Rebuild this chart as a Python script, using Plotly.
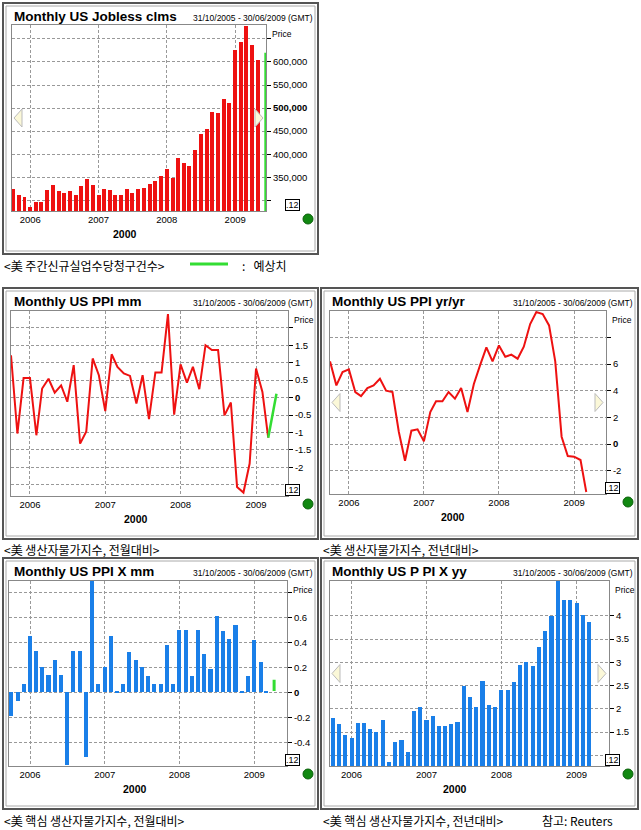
import plotly.graph_objects as go
import pandas as pd

W, H = 641, 830
months42 = pd.date_range("2005-10-01", periods=42, freq="MS")
months44 = pd.date_range("2005-10-01", periods=44, freq="MS")
year_ticks = ["2006-01-01", "2007-01-01", "2008-01-01", "2009-01-01"]
year_labels = ["2006", "2007", "2008", "2009"]

jobless = [325.4, 310.9, 307.2, 285.5, 296.4, 296.4, 323.2, 334.0, 320.3, 316.7, 319.6, 312.3,
           331.2, 345.7, 332.6, 310.9, 325.4, 321.7, 312.3, 312.3, 325.4, 316.7, 323.9, 327.5,
           334.8, 342.8, 352.2, 368.8, 347.8, 392.8, 381.2, 374.0, 408.7, 444.9, 453.6, 490.6,
           489.9, 519.6, 510.1, 626.1, 644.2, 676.8, 637.0, 604.3]
jobless = [v * 1000 for v in jobless]
ppi_mm = [1.21, -1.03, 0.56, 0.56, -1.08, 0.26, 0.54, 0.14, 0.35, -0.12, 0.93, -1.32,
          -0.97, 1.12, 0.64, -0.39, 1.24, 0.88, 0.69, 0.62, -0.17, 0.64, -0.62, 0.72,
          0.72, 2.39, -0.49, 0.95, 0.43, 0.88, 0.24, 1.50, 1.36, 1.36, -0.51, -0.14,
          -2.56, -2.72, -1.89, 0.83, 0.16, -1.15]
ppi_mm_fc = [-1.15, 0.11]
ppi_yy = [6.2, 4.4, 5.4, 5.6, 3.9, 3.6, 4.2, 4.4, 4.9, 4.0, 3.9, 0.9,
          -1.25, 1.0, 1.1, 0.2, 2.4, 3.2, 3.2, 3.9, 3.4, 4.2, 2.4, 4.5,
          5.9, 7.25, 6.2, 7.4, 6.55, 6.7, 6.4, 7.3, 9.0, 9.9, 9.75, 8.9,
          6.2, 0.55, -0.9, -0.95, -1.2, -3.6]
ppix_mm = [-0.19, -0.07, 0.07, 0.45, 0.33, 0.20, 0.14, 0.26, 0.14, -0.58, 0.33, 0.33,
           -0.52, 0.89, 0.07, 0.20, 0.45, 0.01, 0.07, 0.32, 0.26, 0.20, 0.13, 0.07,
           0.07, 0.38, 0.07, 0.50, 0.50, 0.13, 0.50, 0.31, 0.19, 0.61, 0.49, 0.43,
           0.54, 0.01, 0.13, 0.42, 0.24, 0.01]
ppix_mm_fc = [0.01, 0.10]
ppix_yy = [1.81, 1.68, 1.44, 1.38, 1.70, 1.70, 1.57, 1.50, 1.77, 0.85, 1.28, 1.33,
           1.07, 1.95, 2.05, 1.75, 1.85, 1.62, 1.62, 1.68, 1.72, 2.50, 2.25, 2.04,
           2.60, 2.08, 2.04, 2.40, 2.40, 2.57, 2.95, 3.00, 2.93, 3.32, 3.68, 4.00,
           4.75, 4.35, 4.35, 4.27, 4.02, 3.87]

def fx(px): return px / W
def fy(py): return 1 - py / H

fig = go.Figure()
shapes, annots = [], []
FONT = "Liberation Sans, Arial"
KFONT = "Noto Sans CJK KR"
GRID = "#999"

panels = [
    dict(n=1, box=(3, 3, 318, 254), plot=(12, 25, 266, 211), title="Monthly US Jobless clms",
         xr=["2005-09-25", "2009-06-15"], yr=[277000, 680000],
         tv=[300000, 350000, 400000, 450000, 500000, 550000, 600000, 650000],
         tt=["", "350,000", "400,000", "450,000", "<b>500,000</b>", "550,000", "600,000", ""],
         arrows=True),
    dict(n=2, box=(3, 288, 318, 539), plot=(11, 311, 288, 496), title="Monthly US PPI mm",
         xr=["2005-10-01", "2009-06-05"], yr=[-2.82, 2.48],
         tv=[-2.5, -2, -1.5, -1, -0.5, 0, 0.5, 1, 1.5, 2],
         tt=["", "-2", "-1.5", "-1", "-0.5", "<b>0</b>", "0.5", "1", "1.5", ""], arrows=False),
    dict(n=3, box=(321, 288, 638, 539), plot=(330, 311, 606, 494), title="Monthly US PPI yr/yr",
         xr=["2005-10-01", "2009-06-05"], yr=[-3.75, 9.98],
         tv=[-2, 0, 2, 4, 6, 8], tt=["-2", "<b>0</b>", "2", "4", "6", ""], arrows=True),
    dict(n=4, box=(3, 558, 318, 809), plot=(9, 581, 287, 766), title="Monthly US PPI X mm",
         xr=["2005-09-20", "2009-06-10"], yr=[-0.59, 0.89],
         tv=[-0.4, -0.2, 0, 0.2, 0.4, 0.6, 0.8], tt=["-0.4", "-0.2", "<b>0</b>", "0.2", "0.4", "0.6", ""],
         arrows=False),
    dict(n=5, box=(321, 558, 638, 809), plot=(330, 581, 609, 766), title="Monthly US P PI X yy",
         xr=["2005-09-18", "2009-06-08"], yr=[0.77, 4.75],
         tv=[1, 1.5, 2, 2.5, 3, 3.5, 4], tt=["", "1.5", "2", "2.5", "3", "3.5", "4"], arrows=True),
]

layout_axes = {}
for p in panels:
    n = p["n"]
    bx0, by0, bx1, by1 = p["box"]
    px0, py0, px1, py1 = p["plot"]
    sx = "" if n == 1 else str(n)
    layout_axes["xaxis" + sx] = dict(
        domain=[fx(px0), fx(px1)], anchor="y" + sx, type="date", range=p["xr"],
        tickvals=year_ticks, ticktext=year_labels, showgrid=True, gridcolor=GRID,
        griddash="3px,2px", gridwidth=1, showline=True, linecolor="#888", mirror=True,
        ticks="", tickfont=dict(family=FONT, size=9.5, color="#000"), zeroline=False)
    layout_axes["yaxis" + sx] = dict(
        domain=[fy(py1), fy(py0)], anchor="x" + sx, side="right", range=p["yr"],
        tickvals=p["tv"], ticktext=p["tt"], showgrid=True, gridcolor=GRID, griddash="3px,2px",
        gridwidth=1, showline=True, linecolor="#888", mirror=True, ticks="outside", ticklen=4,
        tickcolor="#000", tickfont=dict(family=FONT, size=9.5, color="#000"), zeroline=False)
    shapes.append(dict(type="rect", xref="paper", yref="paper", x0=fx(bx0), x1=fx(bx1),
                       y0=fy(by1), y1=fy(by0), line=dict(color="#555", width=2)))
    shapes.append(dict(type="rect", xref="paper", yref="paper", x0=fx(bx0 + 3), x1=fx(bx1 - 3),
                       y0=fy(by1 - 3), y1=fy(by0 + 3), line=dict(color="#aaa", width=1)))
    annots.append(dict(x=fx(bx0 + 9), y=fy(by0 + 13), xref="paper", yref="paper", xanchor="left",
                       yanchor="middle", showarrow=False, text="<b>" + p["title"] + "</b>",
                       font=dict(family=FONT, size=13.5, color="#000")))
    annots.append(dict(x=fx(bx1 - 3), y=fy(by0 + 15), xref="paper", yref="paper", xanchor="right",
                       yanchor="middle", showarrow=False, text="31/10/2005 - 30/06/2009 (GMT)",
                       font=dict(family=FONT, size=8.5, color="#000")))
    annots.append(dict(x=fx(px1 + 4), y=fy(py0 + 9), xref="paper", yref="paper", xanchor="left",
                       yanchor="middle", showarrow=False, text="Price",
                       font=dict(family=FONT, size=8.5, color="#000")))
    annots.append(dict(x=fx((bx0 + px1) / 2 - 10), y=fy(py1 + 23), xref="paper", yref="paper",
                       xanchor="center", yanchor="middle", showarrow=False, text="<b>2000</b>",
                       font=dict(family=FONT, size=10.5, color="#000")))
    annots.append(dict(x=fx(bx1 - 26), y=fy(py1 - 6), xref="paper", yref="paper", xanchor="center",
                       yanchor="middle", showarrow=False, text=".12", bordercolor="#000",
                       borderwidth=1, borderpad=0, bgcolor="#fff",
                       font=dict(family=FONT, size=9, color="#000")))
    cx, cy = bx1 - 10, py1 + 8
    shapes.append(dict(type="circle", xref="paper", yref="paper", x0=fx(cx - 5), x1=fx(cx + 5),
                       y0=fy(cy + 5), y1=fy(cy - 5), fillcolor="#118811", line=dict(color="#0a600a", width=1)))
    if p["arrows"]:
        my = (py0 + py1) / 2
        lx, rx = px0 + 2, px1 - 3
        shapes.append(dict(type="path", xref="paper", yref="paper",
                           path=f"M {fx(lx)},{fy(my)} L {fx(lx+8)},{fy(my-9)} L {fx(lx+8)},{fy(my+9)} Z",
                           fillcolor="#fbf8d8", line=dict(color="#bbb", width=1)))
        shapes.append(dict(type="path", xref="paper", yref="paper",
                           path=f"M {fx(rx)},{fy(my)} L {fx(rx-8)},{fy(my-9)} L {fx(rx-8)},{fy(my+9)} Z",
                           fillcolor="#fbf8d8", line=dict(color="#bbb", width=1)))

RED = "#ee1111"
BLUE = "#1a7fe8"
GREEN = "#33dd33"
DAY = 1000 * 3600 * 24

fig.add_trace(go.Bar(x=months44, y=jobless, base=0, marker=dict(color=RED, line_width=0),
                     width=21 * DAY, xaxis="x", yaxis="y"))
fig.add_trace(go.Scatter(x=["2009-06-14", "2009-06-14"], y=[277000, 620000], mode="lines",
                         line=dict(color=GREEN, width=3), xaxis="x", yaxis="y", cliponaxis=False))
fig.add_trace(go.Scatter(x=["2009-07-01"], y=[600000], mode="markers",
                         marker=dict(symbol="diamond", color=RED, size=7), xaxis="x", yaxis="y",
                         cliponaxis=False))

fig.add_trace(go.Scatter(x=months42, y=ppi_mm, mode="lines", line=dict(color=RED, width=2),
                         xaxis="x2", yaxis="y2"))
fig.add_trace(go.Scatter(x=[months42[-1], pd.Timestamp("2009-04-10")], y=ppi_mm_fc, mode="lines",
                         line=dict(color=GREEN, width=2.5), xaxis="x2", yaxis="y2"))
fig.add_trace(go.Scatter(x=["2009-06-22"], y=[-1.2], mode="markers",
                         marker=dict(symbol="diamond", color=RED, size=7), xaxis="x2", yaxis="y2",
                         cliponaxis=False))

fig.add_trace(go.Scatter(x=months42, y=ppi_yy, mode="lines", line=dict(color=RED, width=2),
                         xaxis="x3", yaxis="y3"))

fig.add_trace(go.Bar(x=months42, y=ppix_mm, marker=dict(color=BLUE, line_width=0), width=20 * DAY,
                     xaxis="x4", yaxis="y4"))
fig.add_trace(go.Scatter(x=["2009-04-08", "2009-04-08"], y=ppix_mm_fc, mode="lines",
                         line=dict(color=GREEN, width=3), xaxis="x4", yaxis="y4"))
fig.add_trace(go.Scatter(x=["2009-06-24"], y=[0], mode="markers",
                         marker=dict(symbol="diamond", color=BLUE, size=7), xaxis="x4", yaxis="y4",
                         cliponaxis=False))

fig.add_trace(go.Bar(x=months42, y=ppix_yy, base=0, marker=dict(color=BLUE, line_width=0),
                     width=20 * DAY, xaxis="x5", yaxis="y5"))
fig.add_trace(go.Scatter(x=["2009-06-24"], y=[3.85], mode="markers",
                         marker=dict(symbol="diamond", color=BLUE, size=7), xaxis="x5", yaxis="y5",
                         cliponaxis=False))

def cap(x, y, t, anchor="left"):
    annots.append(dict(x=fx(x), y=fy(y), xref="paper", yref="paper", xanchor=anchor, yanchor="middle",
                       showarrow=False, text=t, font=dict(family=KFONT, size=12, color="#000")))
cap(2, 265, "<美 주간신규실업수당청구건수>")
shapes.append(dict(type="line", xref="paper", yref="paper", x0=fx(190), x1=fx(228), y0=fy(264),
                   y1=fy(264), line=dict(color=GREEN, width=3)))
cap(240, 265, ":&nbsp;&nbsp;&nbsp;예상치")
cap(2, 549, "<美 생산자물가지수, 전월대비>")
cap(321, 549, "<美 생산자물가지수, 전년대비>")
cap(2, 820, "<美 핵심 생산자물가지수, 전월대비>")
cap(321, 820, "<美 핵심 생산자물가지수, 전년대비>")
cap(540, 820, "참고: Reuters")

fig.update_layout(width=W, height=H, margin=dict(l=0, r=0, t=0, b=0), showlegend=False,
                  paper_bgcolor="#fff", plot_bgcolor="#fff", shapes=shapes, annotations=annots,
                  bargap=0, **layout_axes)
fig.write_html("out.html", config={"displayModeBar": False},
               post_script="document.body.style.margin='0';document.body.style.overflow='hidden';")
